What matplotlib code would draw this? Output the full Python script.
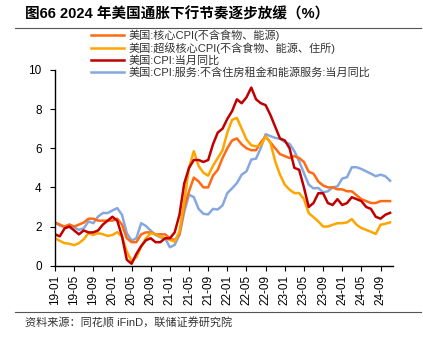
import numpy as np
import matplotlib.pyplot as plt
from matplotlib.lines import Line2D

plt.rcParams['font.family'] = ['Liberation Sans', 'Noto Sans CJK SC']

# 2019-01 .. 2024-11, monthly
months = [f"{y:02d}-{m:02d}" for y in range(19, 25) for m in range(1, 13)][:71]

core = [2.2, 2.1, 2.0, 2.1, 2.0, 2.1, 2.2, 2.4, 2.4, 2.3, 2.3, 2.3,
        2.3, 2.4, 2.1, 1.4, 1.2, 1.2, 1.6, 1.7, 1.7, 1.6, 1.6, 1.6,
        1.4, 1.3, 1.6, 3.0, 3.8, 4.5, 4.3, 4.0, 4.0, 4.6, 4.9, 5.5,
        6.0, 6.4, 6.5, 6.2, 6.0, 5.9, 5.9, 6.3, 6.6, 6.3, 6.0, 5.7,
        5.6, 5.5, 5.6, 5.5, 5.3, 4.8, 4.7, 4.3, 4.1, 4.0, 4.0, 3.9,
        3.9, 3.8, 3.8, 3.6, 3.4, 3.3, 3.2, 3.2, 3.3, 3.3, 3.3]

supercore = [1.40, 1.27, 1.15, 1.12, 1.05, 1.15, 1.35, 1.66, 1.57, 1.66, 1.61, 1.52,
             1.57, 1.71, 1.49, 0.72, 0.24, 0.43, 0.97, 1.40, 1.66, 1.61, 1.49, 1.40,
             1.32, 1.23, 1.74, 3.28, 5.0, 5.85, 5.1, 4.75, 4.6, 5.1, 5.5, 5.9,
             6.8, 7.45, 7.55, 7.0, 6.45, 6.15, 6.1, 6.15, 6.6, 6.28, 5.33, 4.65,
             4.14, 3.88, 3.71, 3.71, 3.40, 2.69, 2.48, 2.26, 2.0, 2.0, 2.09, 2.17,
             2.17, 2.21, 2.38, 2.09, 1.92, 1.83, 1.73, 1.62, 2.09, 2.14, 2.21]

cpi = [1.6, 1.5, 1.9, 2.0, 1.8, 1.6, 1.8, 1.7, 1.7, 1.8, 2.1, 2.3,
       2.5, 2.3, 1.5, 0.3, 0.1, 0.6, 1.0, 1.3, 1.4, 1.2, 1.2, 1.4,
       1.4, 1.7, 2.6, 4.2, 5.0, 5.4, 5.4, 5.3, 5.4, 6.2, 6.8, 7.0,
       7.5, 7.9, 8.5, 8.3, 8.6, 9.1, 8.5, 8.3, 8.2, 7.7, 7.1, 6.5,
       6.4, 6.0, 5.0, 4.9, 4.0, 3.0, 3.2, 3.7, 3.7, 3.2, 3.1, 3.4,
       3.1, 3.2, 3.5, 3.4, 3.3, 3.0, 2.9, 2.5, 2.4, 2.6, 2.7]

services = [2.21, 2.05, 1.97, 2.09, 1.96, 1.83, 1.91, 2.26, 2.17, 2.51, 2.69, 2.69,
            2.82, 2.94, 2.60, 1.66, 1.28, 1.40, 2.17, 2.03, 1.79, 1.57, 1.45, 1.40,
            0.94, 1.06, 1.57, 2.75, 3.63, 3.5, 2.9, 2.65, 2.62, 2.9, 2.87, 3.08,
            3.71, 3.95, 4.22, 4.65, 4.82, 5.42, 5.47, 6.02, 6.72, 6.62, 6.53, 6.48,
            6.32, 6.22, 5.85, 5.33, 4.73, 4.14, 3.95, 3.97, 3.75, 3.80, 4.0, 4.05,
            4.45, 4.52, 5.03, 5.03, 4.94, 4.82, 4.70, 4.57, 4.65, 4.57, 4.34]

labels = ["美国:核心CPI(不含食物、能源)",
          "美国:超级核心CPI(不含食物、能源、住所)",
          "美国:CPI:当月同比",
          "美国:CPI:服务:不含住房租金和能源服务:当月同比"]
colors = ["#FF6A13", "#FFA500", "#C00000", "#86A8E0"]

fig = plt.figure(figsize=(4.23, 3.38), dpi=100)
ax = fig.add_axes([0.130, 0.214, 0.799, 0.579])

x = np.arange(len(months))
for s, c, lab in zip([services, core, supercore, cpi], [colors[3], colors[0], colors[1], colors[2]],
                     [labels[3], labels[0], labels[1], labels[2]]):
    ax.plot(x, s, color=c, lw=1.8, label=lab)

ax.set_xlim(0, 70.6)
ax.set_ylim(0, 10)
ax.set_yticks([0, 2, 4, 6, 8, 10])
ax.set_xticks(x[::4])
ax.set_xticklabels(months[::4], rotation=90, fontsize=8.5)
ax.tick_params(axis='y', labelsize=8.5, length=3.5, width=0.8, pad=6)
ax.tick_params(axis='x', length=3.5, width=0.8, pad=3)
for sp in ['top', 'right']:
    ax.spines[sp].set_visible(False)
for sp in ['left', 'bottom']:
    ax.spines[sp].set_linewidth(1.0)

handles = [Line2D([], [], color=c, lw=1.8) for c in colors]
leg = fig.legend(handles, labels, loc='upper left', bbox_to_anchor=(0.205, 0.925),
                 frameon=False, fontsize=8, handlelength=3.0, handletextpad=0.4,
                 labelspacing=0.12, borderaxespad=0)
for t in leg.get_texts():
    t.set_color('#333333')

fig.text(0.059, 0.957, "图66 2024 年美国通胀下行节奏逐步放缓（%）", fontsize=10.5,
         fontweight='bold', va='center', ha='left')
fig.add_artist(Line2D([0.035, 0.995], [0.917, 0.917], color='#555555', lw=0.8))
fig.add_artist(Line2D([0.035, 0.995], [0.077, 0.077], color='#555555', lw=0.8))
fig.text(0.059, 0.045, "资料来源：同花顺 iFinD，联储证券研究院", fontsize=8, color='#333333',
         va='center', ha='left')

fig.savefig("out.png", dpi=100)
